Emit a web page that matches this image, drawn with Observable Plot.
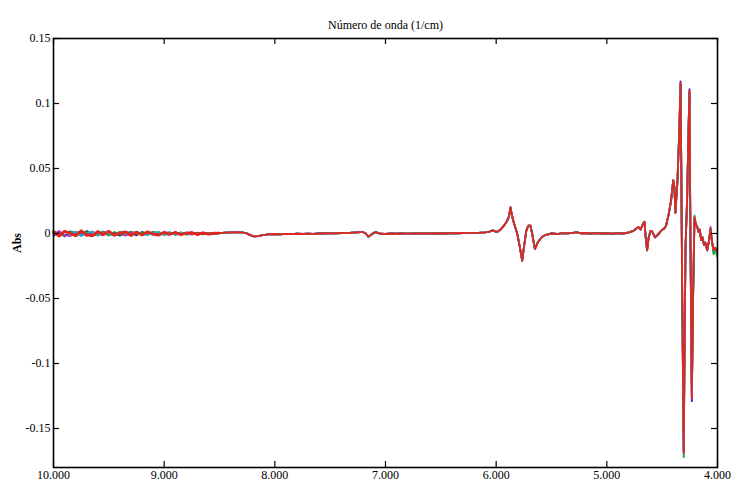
<!DOCTYPE html>
<html>
<head>
<meta charset="utf-8">
<script src="https://cdn.jsdelivr.net/npm/d3@7"></script>
<script src="https://cdn.jsdelivr.net/npm/@observablehq/plot@0.6"></script>
<style>
  html, body { margin: 0; padding: 0; background: white; }
</style>
</head>
<body>
<div id="chart"></div>
<script>
// ---- Tick values and labels ----
const xTicks = [10000, 9000, 8000, 7000, 6000, 5000, 4000];
const xTickLabels = ["10.000", "9.000", "8.000", "7.000", "6.000", "5.000", "4.000"];
const yTicks = [-0.15, -0.1, -0.05, 0, 0.05, 0.1, 0.15];
const yTickLabels = ["-0.15", "-0.1", "-0.05", "0", "0.05", "0.1", "0.15"];

// ---- Series ----
const seriesNames = ["s1", "s2", "s3", "s4", "s5"];
const seriesColors = ["#1f1fd6", "#1a9a1a", "#c81ec8", "#19b4b4", "#e2261b"];

// Noisy high-wavenumber region (10000 -> 8550 cm-1)
const noiseWn = [10000, 9950, 9900, 9850, 9800, 9750, 9700, 9650, 9600, 9550, 9500, 9450, 9400, 9350, 9300, 9250, 9200, 9150, 9100, 9050, 9000, 8950, 8900, 8850, 8800, 8750, 8700, 8650, 8600, 8550];
const noiseS1 = [-0.0018,0.0010,-0.0022,0.0015,0.0004,-0.0016,0.0019,-0.0008,-0.0013,0.0016,-0.0011,0.0005,-0.0017,0.0011,0.0006,-0.0014,0.0012,-0.0005,0.0010,-0.0013,0.0004,0.0009,-0.0010,0.0006,-0.0007,0.0004,0.0003,-0.0006,0.0004,-0.0003];
const noiseS2 = [0.0021,-0.0007,-0.0016,0.0018,-0.0021,0.0008,0.0011,-0.0019,0.0017,0.0003,-0.0015,0.0012,-0.0008,-0.0013,0.0014,-0.0004,0.0009,-0.0012,0.0013,0.0002,-0.0010,0.0007,-0.0004,0.0009,-0.0008,-0.0003,0.0006,-0.0005,0.0002,0.0004];
const noiseS3 = [-0.0009,0.0019,-0.0013,-0.0021,0.0012,0.0006,-0.0020,0.0015,-0.0004,-0.0014,0.0018,-0.0007,0.0013,-0.0016,0.0002,0.0013,-0.0013,0.0006,-0.0011,0.0011,-0.0006,-0.0009,0.0010,-0.0003,0.0008,-0.0008,0.0002,0.0006,-0.0005,0.0001];
const noiseS4 = [0.0006,-0.0015,0.0020,-0.0011,0.0016,-0.0019,0.0003,0.0014,-0.0018,0.0012,-0.0003,-0.0016,0.0015,-0.0002,-0.0012,0.0016,-0.0007,-0.0010,0.0005,0.0012,-0.0012,0.0004,-0.0009,0.0007,-0.0003,0.0009,-0.0006,0.0002,0.0005,-0.0004];
const noiseS5 = [0.0012,-0.0020,0.0016,0.0002,-0.0017,0.0021,-0.0009,-0.0018,0.0014,-0.0006,0.0017,-0.0014,0.0003,0.0012,-0.0015,0.0009,-0.0011,0.0013,-0.0004,-0.0012,0.0010,-0.0006,0.0008,-0.0009,0.0002,0.0007,-0.0008,0.0005,-0.0004,0.0002];

// Shared spectrum (8500 -> 4003 cm-1)
const specWn = [8500,8450,8400,8350,8300,8260,8220,8190,8150,8110,8060,8000,7950,7900,7850,7800,7750,7700,7650,7600,7550,7500,7450,7400,7350,7300,7250,7210,7180,7155,7130,7100,7080,7050,7000,6950,6900,6850,6800,6750,6700,6650,6600,6550,6500,6450,6400,6350,6300,6250,6200,6150,6100,6060,6030,6010,5990,5960,5930,5905,5885,5870,5858,5843,5825,5807,5785,5765,5748,5728,5710,5690,5675,5650,5625,5600,5575,5550,5500,5450,5400,5350,5300,5270,5240,5200,5150,5100,5050,5000,4950,4900,4850,4800,4760,4730,4714,4695,4675,4660,4648,4636,4622,4605,4590,4565,4540,4510,4480,4465,4443,4420,4400,4390,4380,4370,4362,4346,4334,4327,4319,4305,4297,4289,4274,4262,4253,4248,4242,4232,4220,4208,4195,4183,4170,4160,4148,4135,4122,4110,4093,4078,4063,4050,4034,4020,4003];
const specAbs = [0.0003,0.0006,0.0008,0.001,0.0009,0.0003,-0.0012,-0.0022,-0.002,-0.0012,-0.0006,-0.0004,-0.0006,-0.0003,-0.0005,-0.0002,-0.0004,-0.0001,-0.0003,0.0,0.0002,0.0003,0.0001,0.0004,0.0003,0.0006,0.0009,0.0012,0.0002,-0.0025,-0.001,0.0008,0.0009,-0.0002,-0.0003,0.0,-0.0002,0.0,-0.0001,0.0,0.0001,0.0,0.0001,0.0,0.0002,0.0,0.0003,0.0002,0.0004,0.0003,0.0005,0.0006,0.0008,0.0014,0.0024,0.0016,0.0012,0.003,0.006,0.009,0.013,0.020,0.014,0.009,0.004,-0.001,-0.011,-0.021,-0.010,0.002,0.006,0.006,0.000,-0.012,-0.007,-0.004,-0.002,-0.001,0.0,-0.0004,0.0003,0.0001,0.0006,0.001,0.0002,0.0004,0.0,0.0003,0.0,0.0002,-0.0002,0.0003,0.0,0.0008,0.002,0.004,0.005,0.003,0.007,0.009,-0.004,-0.013,-0.003,0.002,0.0015,-0.003,-0.001,0.002,0.004,0.006,0.014,0.025,0.041,0.036,0.016,0.030,0.040,0.077,0.116,0.05,-0.046,-0.169,-0.08,-0.011,0.028,0.08,0.110,0.04,-0.03,-0.126,-0.046,0.0125,0.007,0.005,0.001,0.003,-0.005,-0.003,-0.009,-0.007,-0.013,-0.006,0.004,-0.006,-0.013,-0.011,-0.014];

// Per-series differences at the strong bands
const peakWn = [4346, 4334, 4305, 4253, 4232, 4208, 4063, 4034, 4003];
const peakS1 = [0.075, 0.117, -0.167, 0.111, -0.129, 0.010, 0.002, -0.015, -0.016];
const peakS2 = [0.078, 0.114, -0.172, 0.109, -0.124, 0.013, 0.003, -0.016, -0.018];
const peakS3 = [0.076, 0.115, -0.168, 0.108, -0.127, 0.011, 0.005, -0.012, -0.013];
const peakS4 = [0.079, 0.113, -0.170, 0.107, -0.125, 0.014, 0.004, -0.014, -0.015];
const peakS5 = null; // uses shared spectrum

const noiseBySeries = [noiseS1, noiseS2, noiseS3, noiseS4, noiseS5];
const peaksBySeries = [peakS1, peakS2, peakS3, peakS4, peakS5];

const rows = [];
const noiseRedRows = [];
seriesNames.forEach((name, k) => {
  noiseWn.forEach((w, i) => {
    const r = {series: name, wn: w, abs: noiseBySeries[k][i]};
    rows.push(r);
    if (k === seriesNames.length - 1) noiseRedRows.push(r);
  });
  specWn.forEach((w, i) => {
    let v = specAbs[i];
    const pk = peaksBySeries[k];
    if (pk) { const j = peakWn.indexOf(w); if (j >= 0) v = pk[j]; }
    rows.push({series: name, wn: w, abs: v});
  });
});
noiseRedRows.push({series: seriesNames[seriesNames.length - 1], wn: specWn[0], abs: specAbs[0]});

const xFmt = d => xTickLabels[xTicks.indexOf(d)];
const yFmt = d => { const j = yTicks.findIndex(t => Math.abs(t - d) < 1e-9); return j >= 0 ? yTickLabels[j] : ""; };

const W = 733, H = 483, ML = 53, MR = 16, MT = 38, MB = 16, TICK = 6;
const innerW = W - ML - MR, innerH = H - MT - MB;

const chart = Plot.plot({
  width: W,
  height: H,
  marginLeft: ML,
  marginRight: MR,
  marginTop: MT,
  marginBottom: MB,
  style: {fontFamily: "'Liberation Serif', 'Times New Roman', serif", fontSize: "12px", background: "white", color: "black"},
  x: {domain: [10000, 4000]},
  y: {domain: [-0.18, 0.15]},
  color: {domain: seriesNames, range: seriesColors},
  marks: [
    Plot.line(rows, {x: "wn", y: "abs", z: "series", stroke: "series", strokeWidth: 1.8}),
    Plot.line(noiseRedRows, {x: "wn", y: "abs", stroke: "series", strokeWidth: 2.8}),
    Plot.frame({stroke: "black", strokeWidth: 1.6}),
    // inward tick marks on all four sides
    Plot.ruleX(xTicks, {x: d => d, insetTop: innerH - TICK, stroke: "black", strokeWidth: 1.2}),
    Plot.ruleX(xTicks, {x: d => d, insetBottom: innerH - TICK, stroke: "black", strokeWidth: 1.2}),
    Plot.ruleY(yTicks, {y: d => d, insetRight: innerW - TICK, stroke: "black", strokeWidth: 1.2}),
    Plot.ruleY(yTicks, {y: d => d, insetLeft: innerW - TICK, stroke: "black", strokeWidth: 1.2}),
    Plot.axisX({anchor: "bottom", ticks: xTicks, tickSize: 0, tickPadding: 3, tickFormat: xFmt, label: null}),
    Plot.axisY({anchor: "left", ticks: yTicks, tickSize: 0, tickPadding: 3, tickFormat: yFmt, label: null}),
    Plot.text(["Número de onda (1/cm)"], {frameAnchor: "top", dy: -18, text: d => d, fontSize: 12}),
    Plot.text(["Abs"], {frameAnchor: "left", rotate: -90, dx: -36, text: d => d, fontSize: 12, fontWeight: "bold", letterSpacing: "1px"})
  ]
});
document.getElementById("chart").appendChild(chart);
</script>
</body>
</html>
